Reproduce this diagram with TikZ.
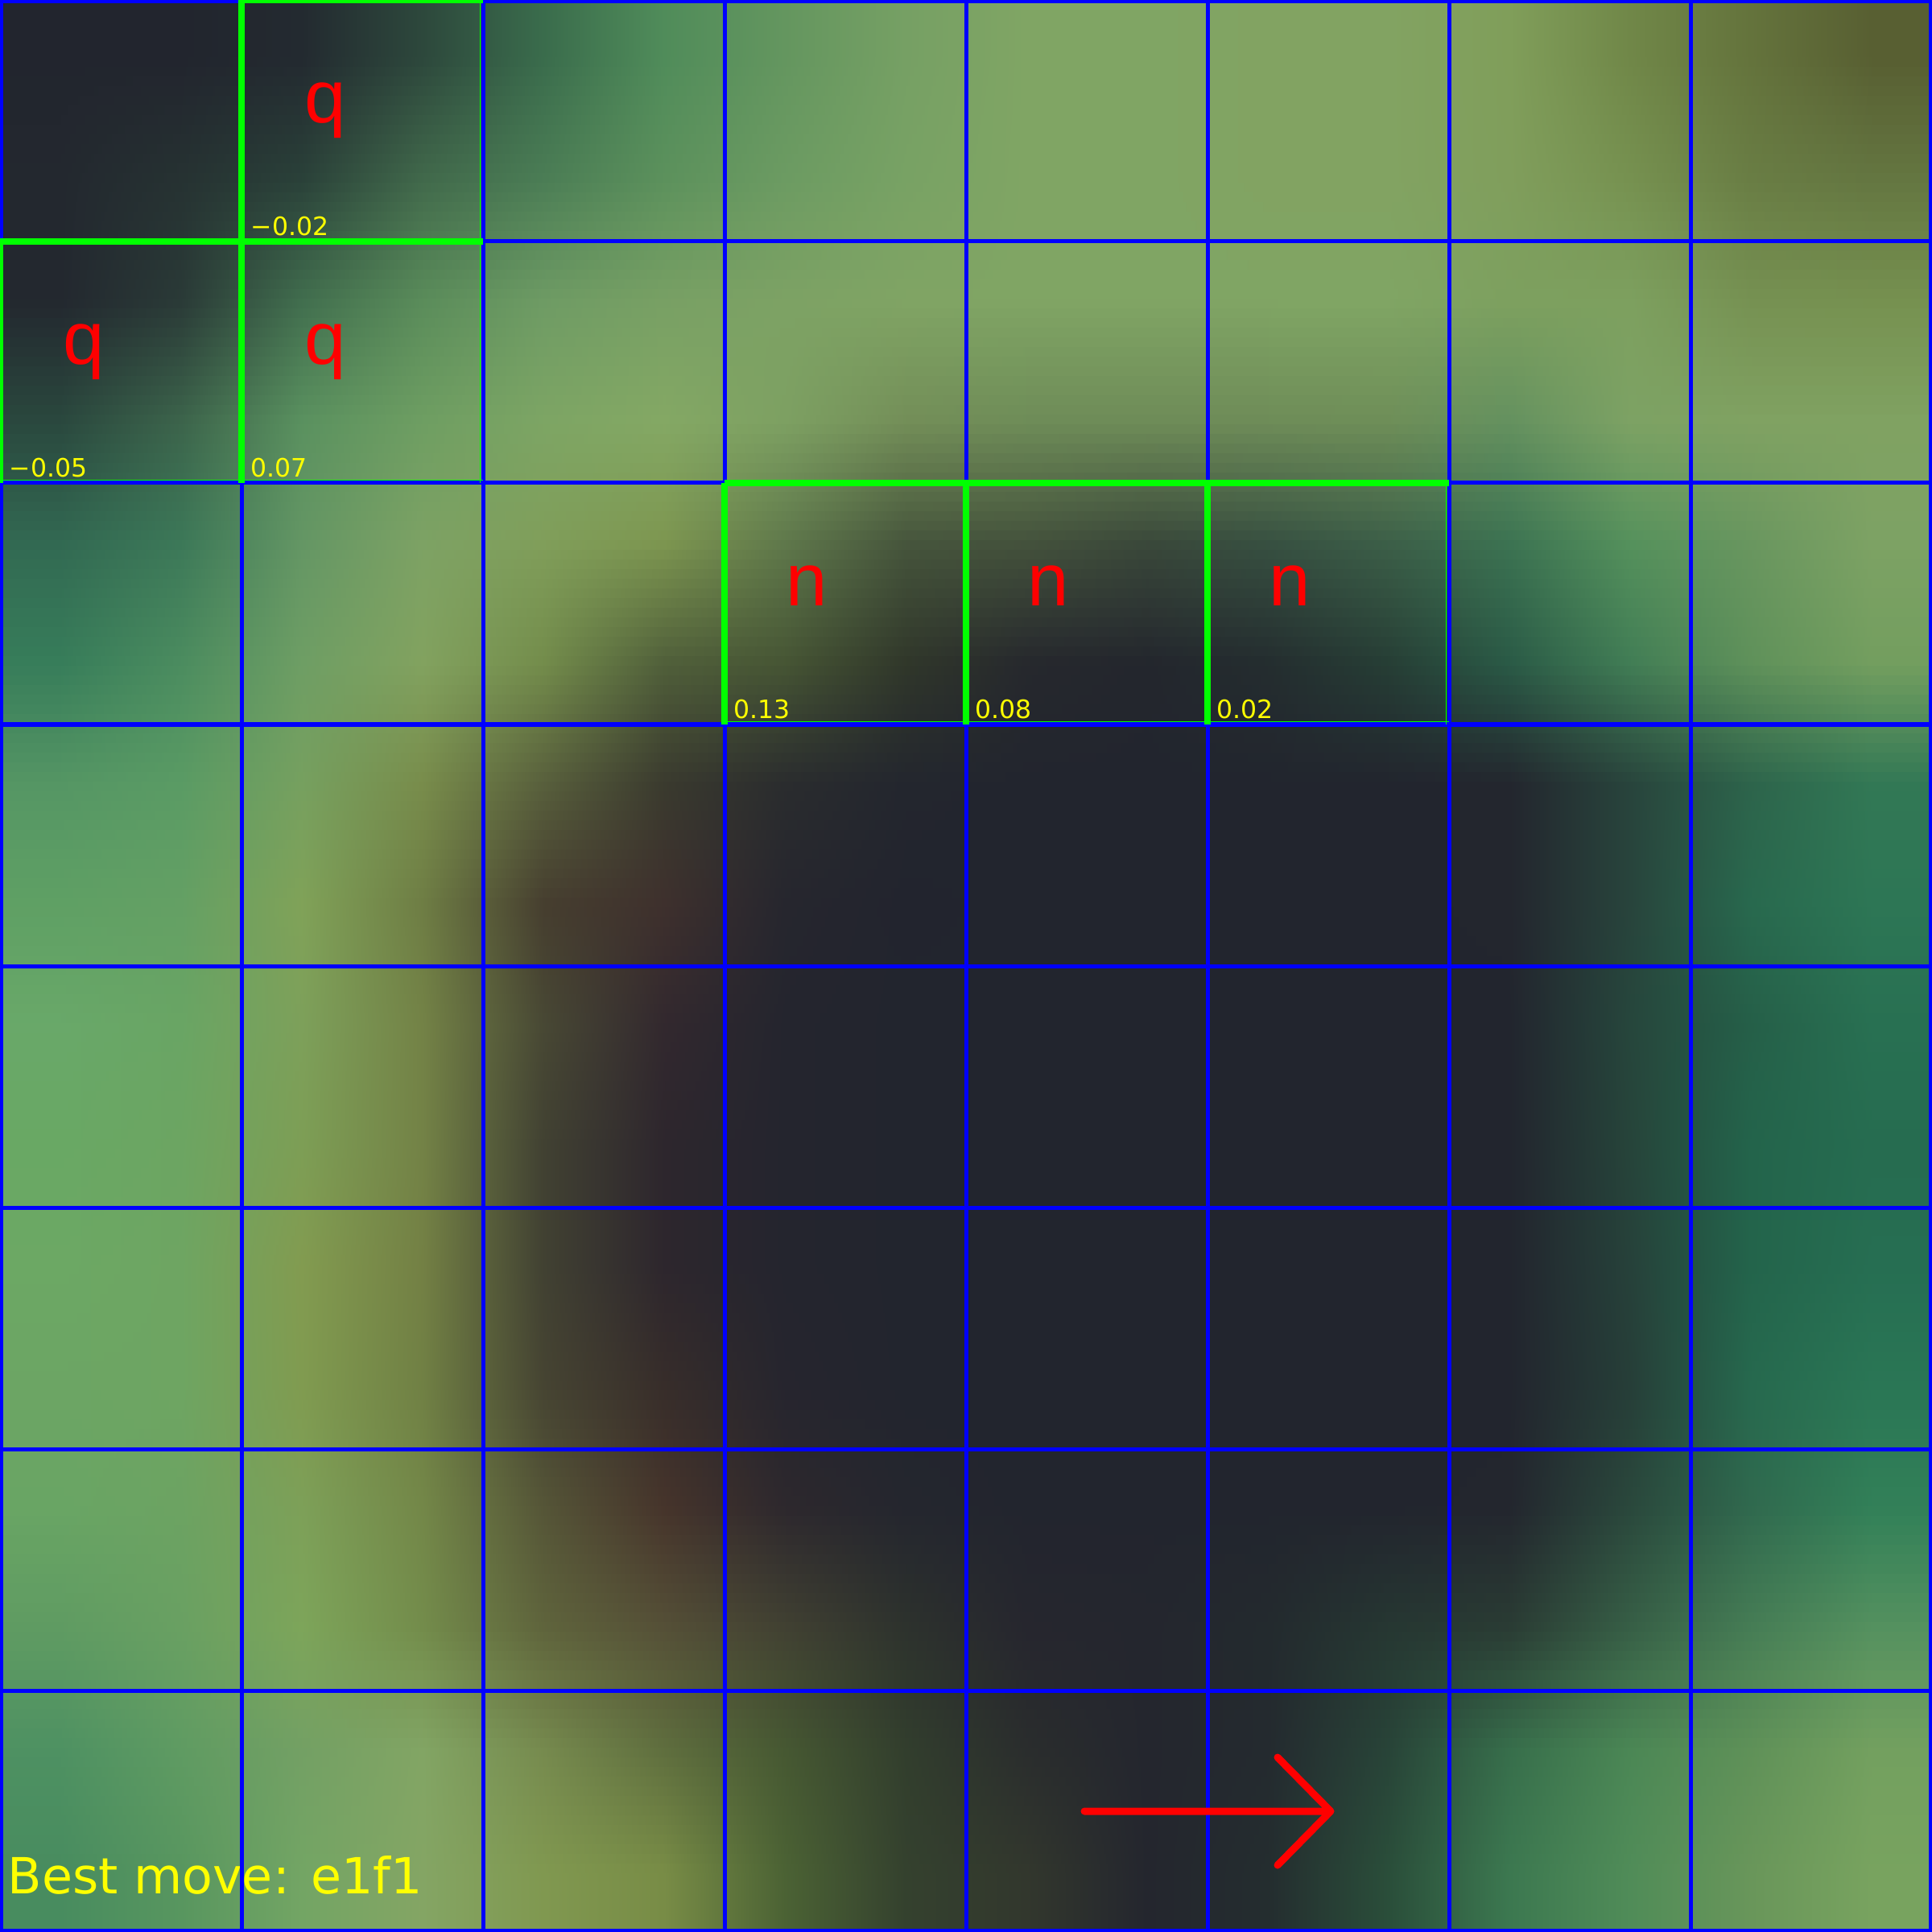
\documentclass[tikz,border=0pt]{standalone}
\usepackage{fontspec}
\setmainfont{DejaVu Sans}
\newfontfamily\pieceface{Liberation Sans}
\definecolor{gridblue}{RGB}{0,0,255}
\definecolor{boxgreen}{RGB}{0,255,0}
\definecolor{valyellow}{RGB}{255,255,0}
\definecolor{piecered}{RGB}{255,0,0}
\newcommand\defrow[2]{\foreach \x [count=\i from 0] in {#2}{\expandafter\xdef\csname c-#1-\i\endcsname{\x}}}
% colour samples at half-cell centres (16 x 16), RGB 0-255
\defrow{0}{34,37,46, 34,37,46, 35,42,48, 45,72,60, 58,108,76, 80,140,90, 100,150,95, 118,160,100, 128,165,100, 128,165,100, 130,163,98, 130,163,98, 128,158,90, 112,135,72, 100,115,60, 88,95,50}
\defrow{1}{35,40,47, 38,50,50, 42,65,57, 65,105,75, 75,125,85, 92,145,92, 108,155,98, 120,162,100, 128,165,100, 128,165,100, 130,163,98, 130,163,98, 128,158,92, 118,145,80, 105,125,68, 100,118,65}
\defrow{2}{35,40,47, 42,58,55, 65,110,78, 90,140,90, 110,155,100, 120,160,100, 125,162,100, 128,164,100, 128,165,100, 128,165,100, 128,165,100, 128,165,100, 125,160,95, 125,160,95, 118,145,82, 118,145,80}
\defrow{3}{42,72,62, 60,100,75, 90,145,95, 110,158,98, 125,165,100, 132,168,100, 125,160,98, 115,142,88, 110,140,88, 110,140,88, 110,140,88, 110,142,88, 100,145,95, 125,162,100, 128,162,98, 128,162,98}
\defrow{4}{50,105,82, 60,120,88, 100,150,100, 125,162,100, 128,158,90, 125,150,80, 95,120,75, 70,85,60, 68,82,60, 58,72,58, 55,80,65, 60,95,72, 60,115,82, 85,145,92, 105,150,95, 125,162,100}
\defrow{5}{55,125,90, 75,140,95, 110,158,100, 130,162,95, 115,140,75, 80,95,58, 70,85,52, 48,55,42, 38,40,45, 35,38,45, 36,45,47, 38,62,53, 42,90,70, 65,125,85, 95,145,90, 115,158,95}
\defrow{6}{85,150,100, 90,155,100, 118,160,95, 120,140,75, 88,95,60, 58,58,46, 42,44,46, 35,38,46, 34,37,46, 34,37,46, 34,37,46, 34,37,46, 35,38,46, 40,68,60, 45,100,75, 50,120,85}
\defrow{7}{95,160,100, 100,160,100, 128,162,88, 110,125,68, 70,62,47, 62,48,45, 38,38,46, 34,36,46, 34,37,46, 34,37,46, 34,37,46, 34,37,46, 35,38,46, 40,68,60, 40,105,78, 45,118,85}
\defrow{8}{105,168,105, 105,165,100, 125,160,90, 115,130,70, 72,72,52, 50,40,46, 36,37,46, 34,37,46, 34,37,46, 34,37,46, 34,37,46, 34,37,46, 34,37,46, 38,70,60, 37,95,72, 40,112,82}
\defrow{9}{105,168,100, 108,165,98, 125,158,85, 115,130,70, 65,65,50, 45,38,45, 36,37,46, 34,37,46, 34,37,46, 34,37,46, 34,37,46, 34,37,46, 34,37,46, 38,68,58, 35,100,75, 38,108,80}
\defrow{10}{108,168,100, 110,165,98, 130,155,80, 115,128,68, 65,65,50, 45,38,45, 36,37,46, 34,37,46, 34,37,46, 34,37,46, 34,37,46, 34,37,46, 34,37,46, 38,65,58, 35,100,75, 38,110,82}
\defrow{11}{108,165,100, 110,165,98, 128,155,80, 112,128,68, 70,68,50, 55,45,42, 38,37,46, 34,37,46, 34,37,46, 34,37,46, 34,37,46, 34,37,46, 34,37,46, 38,62,56, 38,105,78, 42,118,85}
\defrow{12}{105,165,100, 108,163,98, 125,160,88, 115,135,72, 85,85,55, 70,52,43, 45,40,45, 36,38,46, 34,37,46, 34,37,46, 34,37,46, 34,37,46, 35,38,46, 42,72,60, 48,105,78, 50,128,88}
\defrow{13}{95,155,98, 105,160,98, 125,165,90, 115,140,75, 95,100,60, 85,80,55, 65,65,50, 45,50,45, 38,38,46, 36,38,46, 35,42,46, 38,55,50, 42,60,52, 55,95,70, 70,125,85, 85,145,95}
\defrow{14}{78,145,98, 95,155,98, 115,160,100, 130,165,100, 118,138,78, 95,110,62, 70,88,50, 50,62,45, 42,45,45, 36,38,46, 36,42,47, 40,68,56, 55,110,75, 75,135,85, 95,145,88, 115,160,95}
\defrow{15}{72,140,95, 88,150,95, 115,165,100, 132,165,100, 128,152,80, 120,140,70, 75,98,52, 52,65,46, 50,55,45, 36,38,46, 36,45,47, 42,78,58, 60,120,80, 80,140,88, 105,150,90, 120,163,95}
\tikzset{
  piece/.style={font=\pieceface\fontsize{26.3}{30}\selectfont, text=piecered, inner sep=0pt, anchor=base west},
  val/.style={font=\fontsize{8.96}{10}\selectfont, text=valyellow, inner sep=0pt, anchor=base west},
  caption/.style={font=\fontsize{17.6}{20}\selectfont, text=valyellow, inner sep=0pt, anchor=base west},
  gridline/.style={draw=gridblue, line width=0.05cm},
  boxthick/.style={draw=boxgreen, line width=0.075cm},
  boxthin/.style={draw=boxgreen, line width=0.015cm},
  movearrow/.style={draw=piecered, line width=0.09cm, line cap=round, line join=round}
}
\begin{document}
\begin{tikzpicture}
\useasboundingbox (0,0) rectangle (24,-24);
\clip (0,0) rectangle (24,-24);
% blurred background: horizontal strips, each a multi-stop horizontal shading
\foreach \k in {0,...,199}{%
  \pgfmathsetmacro\myS{max(0,min(15,((\k+0.5)*12-75)/150))}%
  \pgfmathtruncatemacro\va{min(14,floor(\myS))}%
  \pgfmathtruncatemacro\vb{\va+1}%
  \pgfmathsetmacro\myT{\myS-\va}%
  \gdef\spec{}%
  \foreach \uu in {0,...,15}{%
    \edef\aR{\csname c-\va-\the\numexpr3*\uu\relax\endcsname}%
    \edef\aG{\csname c-\va-\the\numexpr3*\uu+1\relax\endcsname}%
    \edef\aB{\csname c-\va-\the\numexpr3*\uu+2\relax\endcsname}%
    \edef\bR{\csname c-\vb-\the\numexpr3*\uu\relax\endcsname}%
    \edef\bG{\csname c-\vb-\the\numexpr3*\uu+1\relax\endcsname}%
    \edef\bB{\csname c-\vb-\the\numexpr3*\uu+2\relax\endcsname}%
    \pgfmathsetmacro\colR{(\aR+\myT*(\bR-\aR))/255}%
    \pgfmathsetmacro\colG{(\aG+\myT*(\bG-\aG))/255}%
    \pgfmathsetmacro\colB{(\aB+\myT*(\bB-\aB))/255}%
    \pgfmathsetmacro\xp{0.75+1.5*\uu}%
    \ifnum\uu=0
      \xdef\spec{rgb(0cm)=(\colR,\colG,\colB); rgb(\xp cm)=(\colR,\colG,\colB)}%
    \else
      \xdef\spec{\spec; rgb(\xp cm)=(\colR,\colG,\colB)}%
    \fi
    \ifnum\uu=15
      \xdef\spec{\spec; rgb(24cm)=(\colR,\colG,\colB)}%
    \fi
  }%
  \edef\tmp{\noexpand\pgfdeclarehorizontalshading{bgstrip\k}{0.13cm}{\spec}}\tmp
  \pgfmathsetlengthmacro\ytop{-0.12cm*\k}%
  \pgftext[left,top,at={\pgfpoint{0cm}{\ytop}}]{\pgfuseshading{bgstrip\k}}%
}
% caption (under the grid)
\node[caption] (best) at (0.09,-23.52) {Best move: e1f1};
% blue grid
\foreach \g in {1,...,7}{
  \draw[gridline] (3*\g,0) -- (3*\g,-24);
  \draw[gridline] (0,-3*\g) -- (24,-3*\g);
}
\draw[draw=gridblue, line width=0.04cm] (0.02,-0.02) rectangle (23.98,-23.98);
% green highlight boxes
\foreach \bc/\br in {1/0,0/1,1/1,3/2,4/2,5/2}{
  \draw[boxthin] (3*\bc+2.965,-3*\br) -- (3*\bc+2.965,-3*\br-3)
                 (3*\bc,-3*\br-2.965) -- (3*\bc+3,-3*\br-2.965);
  \draw[boxthick] (3*\bc,-3*\br) -- (3*\bc+3,-3*\br)
                  (3*\bc,-3*\br) -- (3*\bc,-3*\br-3);
}
% pieces
\node[piece] (qa) at (3.78,-1.53) {q};
\node[piece] (qb) at (0.78,-4.53) {q};
\node[piece] (qc) at (3.78,-4.53) {q};
\node[piece] (na) at (9.76,-7.53) {n};
\node[piece] (nb) at (12.76,-7.53) {n};
\node[piece] (nc) at (15.76,-7.53) {n};
% values
\node[val] (va) at (3.11,-2.93) {−0.02};
\node[val] (vb) at (0.11,-5.93) {−0.05};
\node[val] (vc) at (3.11,-5.93) {0.07};
\node[val] (vd) at (9.11,-8.93) {0.13};
\node[val] (ve) at (12.11,-8.93) {0.08};
\node[val] (vf) at (15.11,-8.93) {0.02};
% move arrow
\coordinate (mvA) at (13.47,-22.5);
\coordinate (mvB) at (16.53,-22.5);
\coordinate (hdU) at (15.87,-21.83);
\coordinate (hdL) at (15.87,-23.17);
\draw[movearrow] (mvA) -- (mvB) (hdU) -- (mvB) -- (hdL);
\end{tikzpicture}
\end{document}
